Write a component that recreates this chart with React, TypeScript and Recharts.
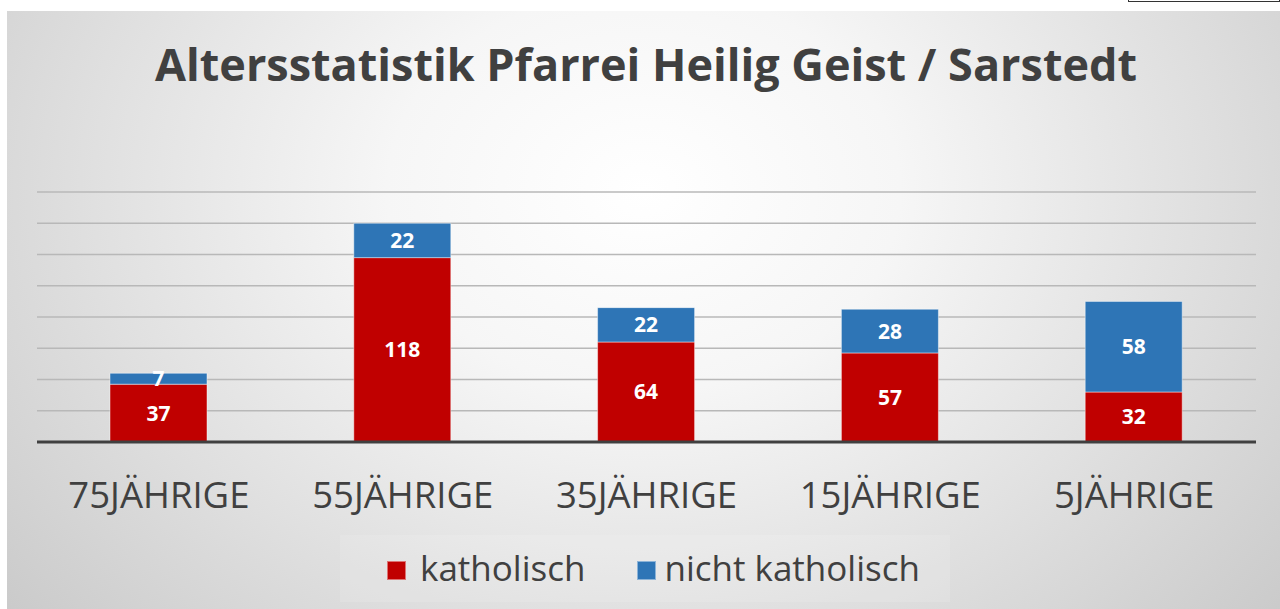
import React from "react";
import {
  BarChart,
  Bar,
  XAxis,
  YAxis,
  CartesianGrid,
  LabelList,
} from "recharts";

const categories = ["75JÄHRIGE", "55JÄHRIGE", "35JÄHRIGE", "15JÄHRIGE", "5JÄHRIGE"];
const katholisch = [37, 118, 64, 57, 32];
const nichtKatholisch = [7, 22, 22, 28, 58];
const yTicks = [0, 20, 40, 60, 80, 100, 120, 140, 160];

const RED = "#c00000";
const BLUE = "#2e75b6";
const TEXT = "#404040";
const FONT = "'Open Sans', 'Noto Sans', sans-serif";

const data = categories.map((name, i) => ({
  name,
  katholisch: katholisch[i],
  nichtKatholisch: nichtKatholisch[i],
}));

// x axis label, placed below the thick base line
const AxisTick = (props: any) => {
  const { x, y, payload } = props;
  return (
    <text
      x={x}
      y={y + 66}
      textAnchor="middle"
      fill={TEXT}
      fontSize={36.5}
      fontFamily={FONT}
    >
      {payload.value}
    </text>
  );
};

const LegendItem = ({
  color,
  label,
  gap,
}: {
  color: string;
  label: string;
  gap: number;
}) => (
  <div style={{ display: "flex", alignItems: "center" }}>
    <div
      style={{
        width: 19,
        height: 19,
        background: color,
        boxSizing: "border-box",
        border: "1px solid rgba(255,255,255,0.45)",
        marginRight: gap,
        marginTop: 4,
      }}
    />
    <span style={{ fontSize: 35, color: TEXT, lineHeight: "40px" }}>{label}</span>
  </div>
);

export default function App() {
  return (
    <div style={{ fontFamily: FONT }}>
      {/* small box in the top right corner */}
      <div
        style={{
          position: "absolute",
          left: 1128,
          top: -2,
          width: 152,
          height: 4,
          border: "1px solid #333",
          boxSizing: "border-box",
          background: "#fff",
        }}
      />

      <div
        style={{
          position: "absolute",
          left: 7,
          top: 11,
          width: 1273,
          height: 598,
          overflow: "hidden",
          background:
            "radial-gradient(ellipse 72% 120% at 50% 30%, #ffffff 0%, #f6f6f6 28%, #e0e0e0 60%, #c4c4c4 100%)",
        }}
      >
        {/* TITLE */}
        <div
          style={{
            position: "absolute",
            left: 0,
            width: 1278,
            top: 22,
            textAlign: "center",
            fontSize: 45,
            fontWeight: 700,
            color: TEXT,
            whiteSpace: "nowrap",
          }}
        >
          Altersstatistik Pfarrei Heilig Geist / Sarstedt
        </div>

        <BarChart
          width={1273}
          height={598}
          data={data}
          margin={{ top: 181, right: 24, bottom: 97, left: 30 }}
          style={{ position: "absolute", left: 0, top: 0 }}
        >
          <CartesianGrid vertical={false} stroke="#b8b8b8" strokeWidth={1.5} />
          <YAxis hide domain={[0, 160]} ticks={yTicks} />
          <XAxis
            dataKey="name"
            height={70}
            tickSize={0}
            tickMargin={0}
            tickLine={false}
            axisLine={{ stroke: TEXT, strokeWidth: 3 }}
            tick={<AxisTick />}
            interval={0}
          />
          <Bar
            dataKey="katholisch"
            stackId="a"
            fill={RED}
            barSize={97}
            stroke="rgba(255,255,255,0.45)"
            strokeWidth={1}
            isAnimationActive={false}
          >
            <LabelList
              dataKey="katholisch"
              position="center"
              fill="#ffffff"
              fontSize={21}
              fontWeight={700}
              fontFamily={FONT}
            />
          </Bar>
          <Bar
            dataKey="nichtKatholisch"
            stackId="a"
            fill={BLUE}
            barSize={97}
            stroke="rgba(255,255,255,0.45)"
            strokeWidth={1}
            isAnimationActive={false}
          >
            <LabelList
              dataKey="nichtKatholisch"
              position="center"
              fill="#ffffff"
              fontSize={21}
              fontWeight={700}
              fontFamily={FONT}
            />
          </Bar>
        </BarChart>

        {/* LEGEND */}
        <div
          style={{
            position: "absolute",
            left: 333,
            top: 524,
            width: 610,
            height: 67,
            background: "rgba(255,255,255,0.12)",
          }}
        />
        <div
          style={{
            position: "absolute",
            left: 380,
            top: 537,
            display: "flex",
            gap: 52,
          }}
        >
          <LegendItem color={RED} label="katholisch" gap={14} />
          <LegendItem color={BLUE} label="nicht katholisch" gap={8} />
        </div>
      </div>
    </div>
  );
}
